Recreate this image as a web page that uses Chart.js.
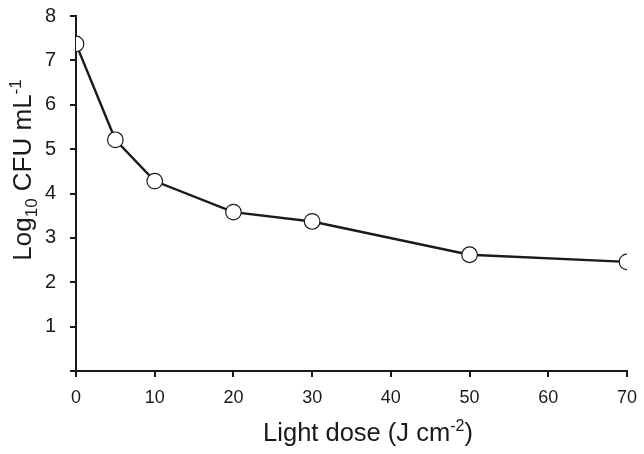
<!DOCTYPE html>
<html><head><meta charset="utf-8">
<script src="https://cdn.jsdelivr.net/npm/chart.js@4"></script>
<style>html,body{margin:0;padding:0;background:#fff}#wrap{width:644px;height:454px}</style>
</head><body><div id="wrap"><canvas id="c" width="644" height="454"></canvas></div>
<script>
const lightDose = [0, 5, 10, 20, 30, 50, 70];
const log10CFU = [7.37, 5.21, 4.28, 3.58, 3.37, 2.62, 2.46];
const xTicks = [0, 10, 20, 30, 40, 50, 60, 70];
const yTicks = [0, 1, 2, 3, 4, 5, 6, 7, 8];
const FONT = '"Liberation Sans", Arial, sans-serif';
const INK = '#1a1a1a';

function drawRich(ctx, parts, x, y, align) {
  let total = 0;
  parts.forEach(p => { ctx.font = p[1] + 'px ' + FONT; total += ctx.measureText(p[0]).width; });
  let cx = align === 'center' ? x - total / 2 : x;
  ctx.textAlign = 'left'; ctx.textBaseline = 'alphabetic';
  parts.forEach(p => {
    ctx.font = p[1] + 'px ' + FONT;
    ctx.fillText(p[0], cx, y + p[2]);
    cx += ctx.measureText(p[0]).width;
  });
}

const titles = {
  id: 'titles',
  afterDraw(chart) {
    const ctx = chart.ctx;
    ctx.save();
    ctx.fillStyle = INK;
    drawRich(ctx, [['Light dose (J cm', 25.5, 0], ['-2', 16, -10], [')', 25.5, 0]], 368, 441, 'center');
    ctx.translate(31, 170);
    ctx.rotate(-Math.PI / 2);
    drawRich(ctx, [['Log', 26, 0], ['10', 17, 6], [' CFU mL', 26, 0], ['-1', 17, -10]], 0, 0, 'center');
    ctx.restore();
  }
};

new Chart(document.getElementById('c'), {
  type: 'scatter',
  data: {
    datasets: [{
      data: lightDose.map((x, i) => ({ x: x, y: log10CFU[i] })),
      showLine: true,
      borderColor: INK,
      borderWidth: 2.4,
      pointRadius: 7.8,
      pointHoverRadius: 7.8,
      pointBackgroundColor: '#fff',
      pointBorderColor: INK,
      pointBorderWidth: 1.2
    }]
  },
  options: {
    responsive: false,
    animation: false,
    layout: { padding: { top: 16, right: 17, left: 0, bottom: 0 } },
    plugins: { legend: { display: false }, tooltip: { enabled: false } },
    scales: {
      x: {
        type: 'linear', min: 0, max: 70,
        afterBuildTicks: s => { s.ticks = xTicks.map(v => ({ value: v })); },
        afterFit: s => { s.height = 83; s.paddingLeft = 0; s.paddingRight = 0; },
        grid: { drawOnChartArea: false, drawTicks: true, tickLength: 6, color: INK, lineWidth: 2 },
        border: { display: true, color: INK, width: 2 },
        ticks: { color: INK, font: { family: FONT, size: 18 }, padding: 10, maxRotation: 0 }
      },
      y: {
        type: 'linear', min: 0, max: 8,
        afterBuildTicks: s => { s.ticks = yTicks.map(v => ({ value: v })); },
        afterFit: s => { s.width = 76; s.paddingTop = 0; s.paddingBottom = 0; },
        grid: { drawOnChartArea: false, drawTicks: true, tickLength: 6, color: INK, lineWidth: 2 },
        border: { display: true, color: INK, width: 2 },
        ticks: { color: INK, font: { family: FONT, size: 20 }, padding: 14,
          callback: v => v === 0 ? '' : String(v) }
      }
    }
  },
  plugins: [titles]
});
</script></body></html>
